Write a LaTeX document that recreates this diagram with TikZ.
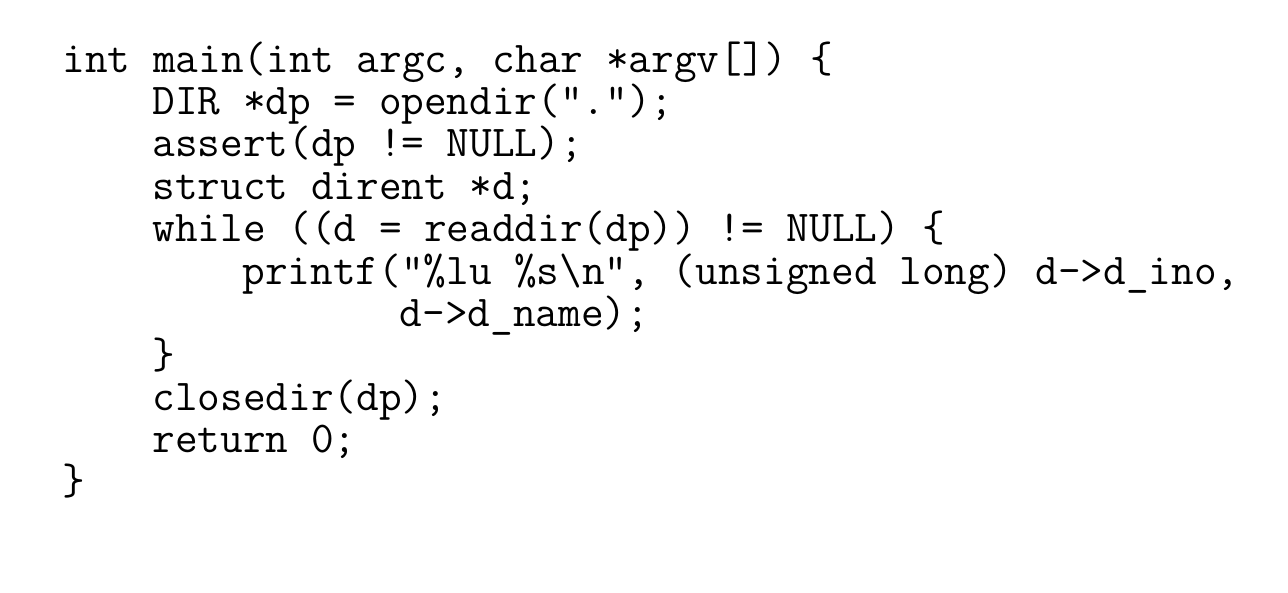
\documentclass[tikz,border=0pt]{standalone}
\usepackage{fontspec}
\tikzset{codeline/.style={anchor=base west,inner sep=0pt,font=\ttfamily\fontsize{22pt}{21pt}\selectfont}}
\newcommand{\ind}[1]{62+#1*22.5}
\begin{document}
\begin{tikzpicture}[x=0.5pt,y=-0.5pt]
    \useasboundingbox (0,0) rectangle (1288,593);
    % code lines, baseline per row
    \node[codeline] (l0) at ({\ind{0}},73) {int main(int argc, char *argv[]) \{};
    \node[codeline] (l1) at ({\ind{4}},115) {DIR *dp = opendir(".");};
    \node[codeline] (l2) at ({\ind{4}},157) {assert(dp != NULL);};
    \node[codeline] (l3) at ({\ind{4}},199) {struct dirent *d;};
    \node[codeline] (l4) at ({\ind{4}},242) {while ((d = readdir(dp)) != NULL) \{};
    \node[codeline] (l5) at ({\ind{8}},284) {printf("\%lu \%s\textbackslash n", (unsigned long) d->d\_ino,};
    \node[codeline] (l6) at ({\ind{15}},326) {d->d\_name);};
    \node[codeline] (l7) at ({\ind{4}},368) {\}};
    \node[codeline] (l8) at ({\ind{4}},410) {closedir(dp);};
    \node[codeline] (l9) at ({\ind{4}},452) {return 0;};
    \node[codeline] (l10) at ({\ind{0}},494) {\}};
\end{tikzpicture}
\end{document}
